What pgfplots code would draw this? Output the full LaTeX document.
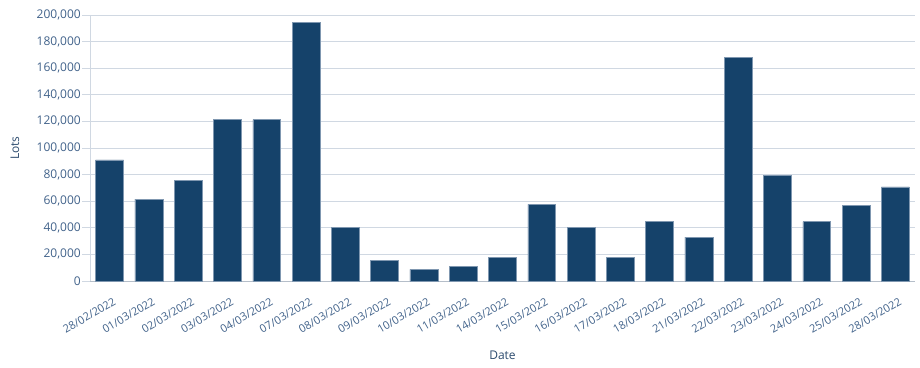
\documentclass[border=0pt]{standalone}
\usepackage{pgfplots}
\pgfplotsset{compat=1.18}
\usepackage{fontspec}
\setmainfont{Open Sans}
\definecolor{barfill}{HTML}{15426A}
\definecolor{baredge}{HTML}{7F97B0}
\definecolor{ticktext}{HTML}{41628A}
\definecolor{labeltext}{HTML}{2C4B6E}
\definecolor{gridc}{HTML}{D0D8E2}
\definecolor{axisc}{HTML}{B5BEC9}
\begin{document}
\begin{tikzpicture}[x=1pt,y=1pt]
\useasboundingbox (0,0) rectangle (920,367);
\begin{axis}[
  at={(90pt,86pt)}, anchor=south west,
  scale only axis, width=825pt, height=266pt,
  ymin=0, ymax=200000,
  xmin=-0.5, xmax=20.5,
  ytick={0,20000,...,200000},
  scaled y ticks=false,
  /pgf/number format/.cd, fixed, 1000 sep={,}, assume math mode=true,
  /pgfplots/.cd,
  xtick={0,...,20},
  xticklabels={28/02/2022,01/03/2022,02/03/2022,03/03/2022,04/03/2022,07/03/2022,08/03/2022,09/03/2022,10/03/2022,11/03/2022,14/03/2022,15/03/2022,16/03/2022,17/03/2022,18/03/2022,21/03/2022,22/03/2022,23/03/2022,24/03/2022,25/03/2022,28/03/2022},
  xticklabel style={xshift=3pt, yshift=-8pt, rotate=30, anchor=north east, font=\fontsize{11}{12}\selectfont, text=ticktext, inner sep=0pt},
  yticklabel style={font=\fontsize{12}{13}\selectfont, text=ticktext, inner sep=1pt},
  major x tick style={draw=none},
  major y tick style={draw=gridc, line width=0.8pt},
  tick align=outside, major tick length=8pt,
  ymajorgrids, grid style={draw=gridc, line width=0.8pt},
  axis x line*=bottom, axis y line*=left,
  x axis line style={draw=axisc, line width=1pt, -},
  y axis line style={draw=gridc, line width=0.8pt, -},
  xlabel={Date}, ylabel={Lots},
  xlabel style={at={(axis description cs:0.5,-0.28)}, anchor=center, font=\fontsize{12}{13}\selectfont, text=labeltext},
  ylabel style={at={(axis description cs:-0.091,0.5)}, anchor=center, font=\fontsize{12}{13}\selectfont, text=labeltext},
  ytick style={draw=gridc},
  clip=false,
]
\addplot[ybar, bar width=0.71, fill=barfill, draw=baredge, line width=0.6pt] coordinates {
(0,91000) (1,61500) (2,75800) (3,121800) (4,121400) (5,194500) (6,40400) (7,15300) (8,8800) (9,11000) (10,18000) (11,57700) (12,40400) (13,17800) (14,44900) (15,32900) (16,168400) (17,79200) (18,44600) (19,56700) (20,70700)
};
\end{axis}
\end{tikzpicture}
\end{document}
